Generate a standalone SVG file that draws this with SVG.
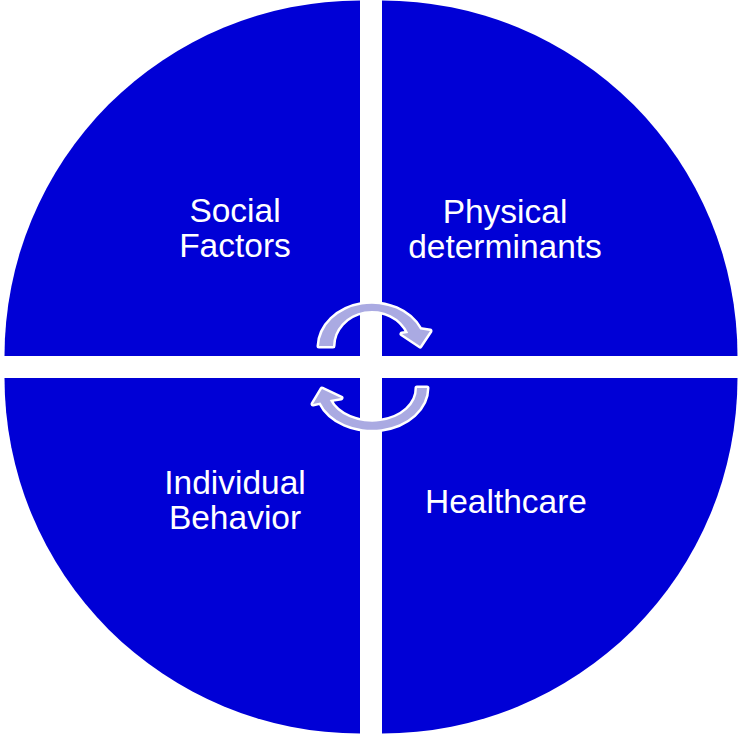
<svg xmlns="http://www.w3.org/2000/svg" width="739" height="735" viewBox="0 0 739 735">
<style>
.q{fill:#0000d6}
.t{fill:#fff;font-family:"Liberation Sans",Arial,sans-serif;font-size:33.5px;text-anchor:middle}
.arr{fill:#aaaae2;stroke:#fff;stroke-width:5;stroke-linejoin:round;paint-order:stroke}
</style>
<rect width="739" height="735" fill="#fff"/>
<g id="social">
<path class="q" d="M360,356 L4.5,356 A355.5,355.5 0 0 1 360,0.5 Z"/>
<text class="t" x="235" y="222">Social</text>
<text class="t" x="235" y="257">Factors</text>
</g>
<g id="physical">
<path class="q" d="M382,356 L382,0.5 A355.5,355.5 0 0 1 737.5,356 Z"/>
<text class="t" x="505" y="223">Physical</text>
<text class="t" x="505" y="258">determinants</text>
</g>
<g id="individual">
<path class="q" d="M360,378 L360,733.5 A355.5,355.5 0 0 1 4.5,378 Z"/>
<text class="t" x="235" y="494">Individual</text>
<text class="t" x="235" y="529">Behavior</text>
</g>
<g id="healthcare">
<path class="q" d="M382,378 L737.5,378 A355.5,355.5 0 0 1 382,733.5 Z"/>
<text class="t" x="506" y="513">Healthcare</text>
</g>
<g id="connectors">
<path class="arr" d="M319,346 A53,44 0 0 1 420.2,329.5 L430,331 L420,346 L402,334 L408.2,332.9 A39,35 0 0 0 333,346 Z"/>
<path class="arr" d="M427,388 A55,42 0 0 1 320.4,402.4 L313,404 L322,389 L341,398 L329.7,399.9 A45,33 0 0 0 417,388 Z"/>
</g>
</svg>
